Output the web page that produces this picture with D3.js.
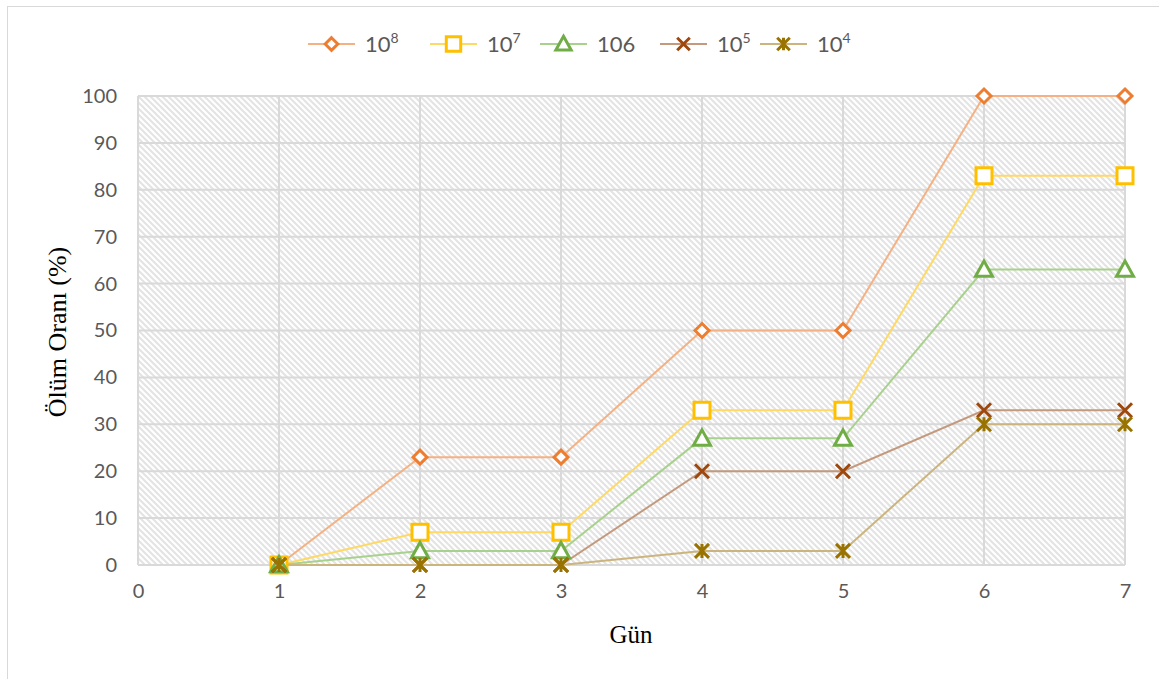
<!DOCTYPE html>
<html>
<head>
<meta charset="utf-8">
<script src="https://cdn.jsdelivr.net/npm/d3@7"></script>
<style>
  html, body { margin: 0; padding: 0; background: #fff; }
  svg { display: block; }
</style>
</head>
<body>
<svg id="chart" width="1159" height="679"></svg>
<script>
// Days on the x axis
const days = [1, 2, 3, 4, 5, 6, 7];

// Mortality (%) per dose
const dose1e8 = [0, 23, 23, 50, 50, 100, 100];
const dose1e7 = [0, 7, 7, 33, 33, 83, 83];
const dose106 = [0, 3, 3, 27, 27, 63, 63];
const dose1e5 = [0, 0, 0, 20, 20, 33, 33];
const dose1e4 = [0, 0, 0, 3, 3, 30, 30];

// Legend labels: base and superscript
const seriesLabels = [
  { base: "10", sup: "8" },
  { base: "10", sup: "7" },
  { base: "106", sup: "" },
  { base: "10", sup: "5" },
  { base: "10", sup: "4" }
];

const xTicks = [0, 1, 2, 3, 4, 5, 6, 7];
const yTicks = [0, 10, 20, 30, 40, 50, 60, 70, 80, 90, 100];

const series = [
  { label: seriesLabels[0], values: dose1e8, marker: "diamond", color: "#ED7D31", line: "#F4B183" },
  { label: seriesLabels[1], values: dose1e7, marker: "square", color: "#FFC000", line: "#FFD966" },
  { label: seriesLabels[2], values: dose106, marker: "triangle", color: "#70AD47", line: "#A9D18E" },
  { label: seriesLabels[3], values: dose1e5, marker: "x", color: "#9E480E", line: "#C49A7E" },
  { label: seriesLabels[4], values: dose1e4, marker: "star", color: "#997300", line: "#CCB47F" }
];

const svg = d3.select("#chart");
const plot = { left: 138, right: 1125, top: 96, bottom: 565 };

// Outer chart border
svg.append("rect")
  .attr("x", 7.5).attr("y", 6.5)
  .attr("width", 1160).attr("height", 700)
  .attr("fill", "#fff").attr("stroke", "#d9d9d9").attr("stroke-width", 1);

// Diagonal hatch fill for the plot area
const defs = svg.append("defs");
const pat = defs.append("pattern")
  .attr("id", "hatch")
  .attr("patternUnits", "userSpaceOnUse")
  .attr("width", 6).attr("height", 6);
pat.append("rect").attr("width", 6).attr("height", 6).attr("fill", "#fff");
pat.append("path")
  .attr("d", "M-2,-2 L8,8 M-2,4 L2,8 M4,-2 L8,2")
  .attr("stroke", "#e3e3e3").attr("stroke-width", 2);

const x = d3.scaleLinear().domain([0, 7]).range([plot.left, plot.right]);
const y = d3.scaleLinear().domain([0, 100]).range([plot.bottom, plot.top]);

svg.append("rect")
  .attr("x", plot.left).attr("y", plot.top)
  .attr("width", plot.right - plot.left).attr("height", plot.bottom - plot.top)
  .attr("fill", "url(#hatch)");

// Gridlines
const grid = svg.append("g").attr("stroke", "#d9d9d9").attr("stroke-width", 2);
grid.selectAll("line.h").data(yTicks).join("line")
  .attr("x1", plot.left).attr("x2", plot.right)
  .attr("y1", d => y(d)).attr("y2", d => y(d));
grid.selectAll("line.v").data(xTicks).join("line")
  .attr("y1", plot.top).attr("y2", plot.bottom)
  .attr("x1", d => x(d)).attr("x2", d => x(d));

const tickFont = "Lato, 'Open Sans', sans-serif";

// Y axis labels
const yAxis = d3.axisLeft(y).tickValues(yTicks).tickSize(0).tickPadding(21).tickFormat(d3.format("d"));
svg.append("g").attr("transform", `translate(${plot.left},0)`).call(yAxis)
  .call(g => g.select(".domain").remove())
  .call(g => g.selectAll("text")
    .attr("fill", "#595959").attr("font-size", 20).attr("font-family", tickFont));

// X axis labels
const xAxis = d3.axisBottom(x).tickValues(xTicks).tickSize(0).tickPadding(19).tickFormat(d3.format("d"));
svg.append("g").attr("transform", `translate(0,${plot.bottom})`).call(xAxis)
  .call(g => g.select(".domain").remove())
  .call(g => g.selectAll("text")
    .attr("fill", "#595959").attr("font-size", 20).attr("font-family", tickFont));

// Axis titles
svg.append("text")
  .attr("x", 631).attr("y", 643)
  .attr("text-anchor", "middle")
  .attr("font-family", "'Liberation Serif', 'Times New Roman', serif")
  .attr("font-size", 25).attr("fill", "#000")
  .text("Gün");
svg.append("text")
  .attr("transform", "translate(66,332) rotate(-90)")
  .attr("text-anchor", "middle")
  .attr("font-family", "'Liberation Serif', 'Times New Roman', serif")
  .attr("font-size", 26).attr("fill", "#000")
  .text("Ölüm Oranı (%)");

// Marker shapes
function markerPath(type, s) {
  switch (type) {
    case "diamond": return `M0,${-s}L${s},0L0,${s}L${-s},0Z`;
    case "square": return `M${-s},${-s}H${s}V${s}H${-s}Z`;
    case "triangle": return `M0,${-s}L${s},${s * 0.8}H${-s}Z`;
    case "x": return `M${-s},${-s}L${s},${s}M${-s},${s}L${s},${-s}`;
    case "star": return `M${-s},${-s}L${s},${s}M${-s},${s}L${s},${-s}M0,${-s}V${s}`;
  }
}
const markerSize = { diamond: 7, square: 8, triangle: 8.5, x: 7, star: 7 };
const markerFill = { diamond: "#fff", square: "#fff", triangle: "#fff", x: "none", star: "none" };

const line = d3.line().x((d, i) => x(days[i])).y(d => y(d));

// Series lines first, then markers on top
series.forEach(s => {
  svg.append("path")
    .datum(s.values)
    .attr("d", line)
    .attr("fill", "none")
    .attr("stroke", s.line)
    .attr("stroke-width", 2);
});
series.forEach(s => {
  svg.append("g").selectAll("path").data(s.values).join("path")
    .attr("transform", (d, i) => `translate(${x(days[i])},${y(d)})`)
    .attr("d", markerPath(s.marker, markerSize[s.marker]))
    .attr("fill", markerFill[s.marker])
    .attr("stroke", s.color)
    .attr("stroke-width", 3);
});

// Legend
const legendX = [308, 430, 540, 660, 760];
const legend = svg.append("g");
series.forEach((s, i) => {
  const g = legend.append("g").attr("transform", `translate(${legendX[i]},44)`);
  g.append("line").attr("x1", 0).attr("x2", 47).attr("y1", 0).attr("y2", 0)
    .attr("stroke", s.line).attr("stroke-width", 2);
  g.append("path").attr("transform", "translate(23.5,0)")
    .attr("d", markerPath(s.marker, markerSize[s.marker] * 0.9))
    .attr("fill", markerFill[s.marker])
    .attr("stroke", s.color).attr("stroke-width", 3);
  const t = g.append("text").attr("x", 57).attr("y", 8)
    .attr("font-family", tickFont).attr("font-size", 22).attr("fill", "#595959");
  t.append("tspan").text(s.label.base);
  if (s.label.sup) {
    t.append("tspan").attr("dy", -9).attr("font-size", 14).text(s.label.sup);
  }
});
</script>
</body>
</html>
